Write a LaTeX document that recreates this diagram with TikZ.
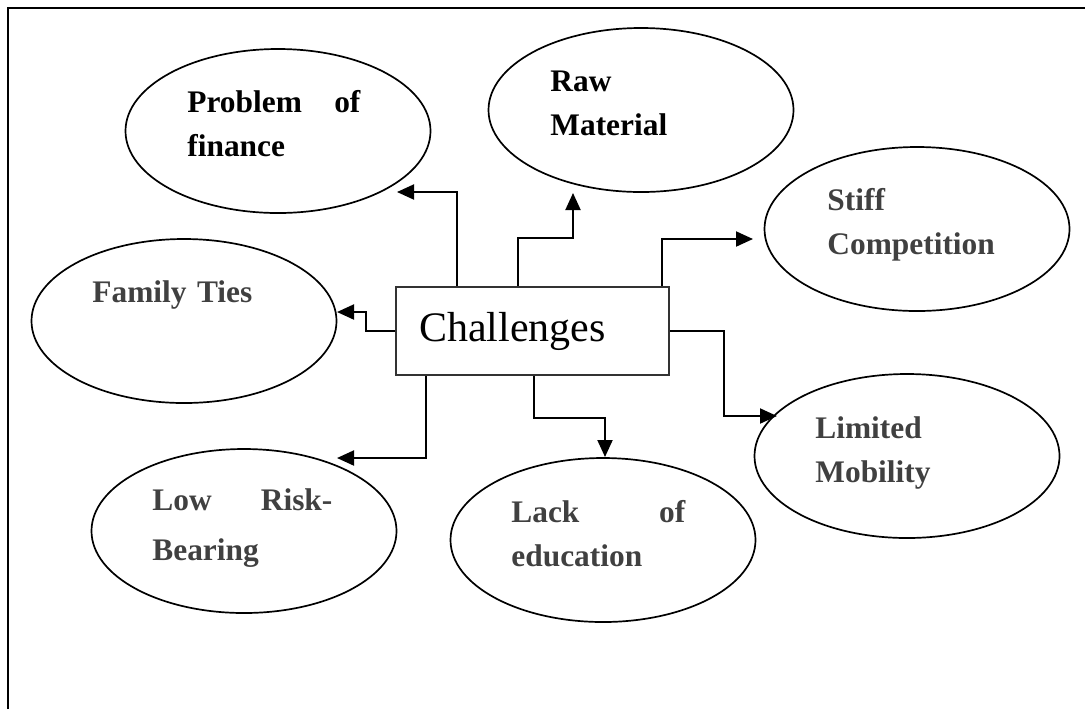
\documentclass[tikz,border=0pt]{standalone}
\usepackage{fontspec}
\setmainfont{Liberation Serif}
\usepackage{tikz}
\usetikzlibrary{calc}
\usetikzlibrary{positioning}
\usetikzlibrary{shapes}
\usetikzlibrary{arrows.meta}

\definecolor{labelgray}{HTML}{404040}

\tikzset{
	bubble/.style={ellipse, draw, line width=0.85pt, minimum width=152.5pt, minimum height=82pt, inner sep=0pt},
	bubbletext/.style={anchor=base west, inner sep=0pt, align=left, text width=#1, font=\bfseries\fontsize{15.7}{22}\selectfont, text=labelgray},
	bubbletext/.default=100pt,
	hub/.style={rectangle, draw=black!80, line width=1pt, minimum width=136.5pt, minimum height=44pt, inner xsep=11.5pt, text width=113.5pt, align=left, font=\fontsize{21}{25}\selectfont},
	link/.style={line width=1pt, -{Triangle[length=8.5pt,width=7.5pt]}}
}

\begin{document}
\begin{tikzpicture}[x=0.5pt, y=-0.5pt]
				\useasboundingbox (0,0) rectangle (1085,709);
				\draw[line width=0.6pt] (8,709) -- (8,8) -- (1085,8);
				
				\node[hub] (ch) at (532.5,331) {Challenges};
				
				\node[bubble] (eFin) at (278,131) {};
				\node[bubble] (eRaw) at (641,110) {};
				\node[bubble] (eStiff) at (917,229) {};
				\node[bubble] (eFam) at (184,321) {};
				\node[bubble] (eMob) at (907,456) {};
				\node[bubble] (eEdu) at (603,540) {};
				\node[bubble] (eLow) at (244,531) {};
				
				\node[bubbletext=86.5pt, text=black] (fin) at (187,112) {Problem\hfill of\\finance};
				\node[bubbletext, text=black] (raw) at (550,91) {Raw\\Material};
				\node[bubbletext] (stiff) at (827,210) {Stiff\\Competition};
				\node[bubbletext] (fam) at (92,302) {Family Ties};
				\node[bubbletext] (mob) at (815,438) {Limited\\Mobility};
				\node[bubbletext=87pt] (edu) at (511,522) {Lack\hfill of\\education};
				\node[bubbletext=90pt, font=\bfseries\fontsize{15.7}{25}\selectfont] (low) at (152,510) {Low\hfill Risk-\\Bearing};
				
				\coordinate (tFin) at (397,192);
				\coordinate (tRaw) at (573,193);
				\coordinate (tStiff) at (753,239);
				\coordinate (tFam) at (337,312);
				\coordinate (tMob) at (777,416);
				\coordinate (tEdu) at (605,457);
				\coordinate (tLow) at (337,458);
				
				\draw[link] ($(ch.north west)+(62,0)$) |- (tFin);
				\draw[link] ($(ch.north west)+(123,0)$) -- ++(0,-48) -| (tRaw);
				\draw[link] ($(ch.north west)+(267,0)$) |- (tStiff);
				\draw[link] (ch.west) -- ++(-29,0) |- (tFam);
				\draw[link] (ch.east) -- ++(54,0) |- (tMob);
				\draw[link] ($(ch.south west)+(139,0)$) -- ++(0,42) -| (tEdu);
				\draw[link] ($(ch.south west)+(31,0)$) |- (tLow);
			\end{tikzpicture}
\end{document}
